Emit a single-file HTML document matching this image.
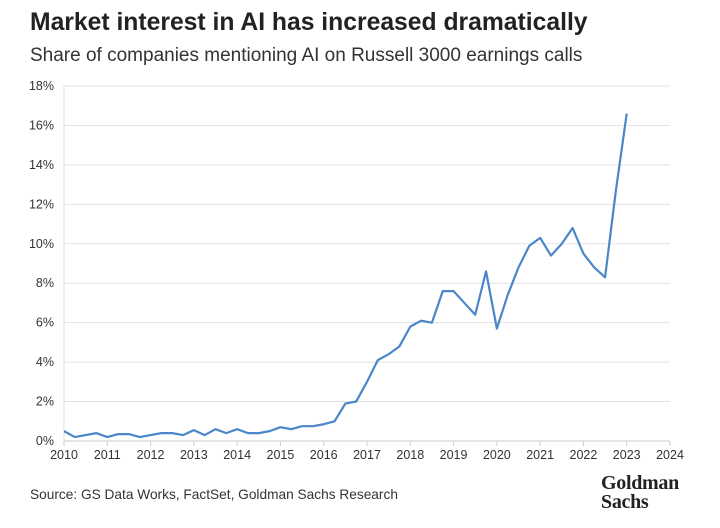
<!DOCTYPE html>
<html><head><meta charset="utf-8"><style>
body{margin:0;width:720px;height:528px;background:#fff;font-family:"Liberation Sans",sans-serif;overflow:hidden;position:relative}
.t{position:absolute;left:30px;top:9px;font-size:24.7px;font-weight:bold;color:#222}
.s{position:absolute;left:30px;top:45px;font-size:19px;color:#333}
.src{position:absolute;left:30px;top:487px;font-size:13.7px;color:#333}
.logo{position:absolute;left:601px;top:474px;font-family:"Liberation Serif",serif;font-weight:bold;font-size:20px;line-height:19px;color:#222;letter-spacing:-0.3px}
svg{position:absolute;left:0;top:0}
</style></head><body>
<div class="t">Market interest in AI has increased dramatically</div>
<div class="s">Share of companies mentioning AI on Russell 3000 earnings calls</div>
<svg width="720" height="528" id="c"></svg>
<div class="src">Source: GS Data Works, FactSet, Goldman Sachs Research</div>
<div class="logo">Goldman<br>Sachs</div>
<script>
const values=[0.5,0.2,0.3,0.4,0.2,0.35,0.35,0.2,0.3,0.4,0.4,0.3,0.55,0.3,0.6,0.4,0.6,0.4,0.4,0.5,0.7,0.6,0.75,0.75,0.85,1.0,1.9,2.0,3.0,4.1,4.4,4.8,5.8,6.1,6.0,7.6,7.6,7.0,6.4,8.6,5.7,7.4,8.8,9.9,10.3,9.4,10.0,10.8,9.5,8.8,8.3,12.7,16.6];
const startYear=2010, step=0.25;
const yTicks=[0,2,4,6,8,10,12,14,16,18];
const xTicks=[2010,2011,2012,2013,2014,2015,2016,2017,2018,2019,2020,2021,2022,2023,2024];
const svg=document.getElementById('c'),NS='http://www.w3.org/2000/svg';
const X=v=>64+(v-2010)*(670-64)/14, Y=v=>441-v*(441-86)/18;
function mk(t,a){const e=document.createElementNS(NS,t);for(const k in a)e.setAttribute(k,a[k]);svg.appendChild(e);return e;}
yTicks.forEach(v=>{
 const l=mk('line',{x1:64,x2:670,y1:Y(v),y2:Y(v),stroke:v==0?'#ccc':'#e3e3e3','stroke-width':1});
 
 
 const t=mk('text',{x:54,y:Y(v)+4,'text-anchor':'end','font-size':12.5,fill:'#333','font-family':'Liberation Sans, sans-serif'});
 t.textContent=v+'%';
 
 
});
mk('line',{x1:64,x2:64,y1:86,y2:441,stroke:'#ddd'});
xTicks.forEach(v=>{
 const l=mk('line',{x1:X(v),x2:X(v),y1:441,y2:446,stroke:'#ccc'});
 
 
 const t=mk('text',{x:X(v),y:459,'text-anchor':'middle','font-size':12.5,fill:'#333','font-family':'Liberation Sans, sans-serif'});
 t.textContent=v;
 
 
});
const p=mk('polyline',{points:values.map((v,i)=>X(startYear+i*step)+','+Y(v)).join(' '),fill:'none',stroke:'#4a86c8','stroke-width':2.2,'stroke-linejoin':'round'});


</script>
</body></html>
